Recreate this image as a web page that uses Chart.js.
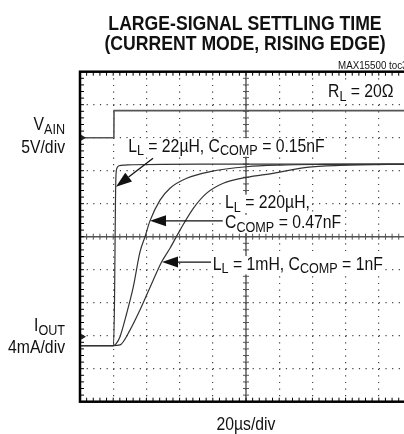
<!DOCTYPE html>
<html>
<head>
<meta charset="utf-8">
<script src="https://cdn.jsdelivr.net/npm/chart.js@4/dist/chart.umd.min.js"></script>
<style>
  html, body { margin: 0; padding: 0; background: #fff; overflow: hidden; }
  #wrap { position: relative; width: 420px; height: 434px; }
</style>
</head>
<body>
<div id="wrap"><canvas id="scope" width="420" height="434"></canvas></div>
<script>
// scope screen in divisions: x = time (20us/div), y = level counted from the bottom line
const vainT = [0, 1.02, 1.025, 10];
const vainV = [8.0, 8.0, 8.82, 8.82];

const l22T = [0, 1.009, 1.04, 1.054, 1.069, 1.084, 1.114, 1.175, 1.355, 1.596, 3.614, 10];
const l22I = [1.70, 1.70, 3.08, 4.60, 6.11, 6.87, 7.08, 7.15, 7.17, 7.18, 7.20, 7.20];

const l220T = [0, 1.009, 1.084, 1.205, 1.407, 1.605, 1.807, 1.958, 2.108, 2.41, 2.711, 3.214, 3.916, 5.021, 6.024, 7.319, 10];
const l220I = [1.70, 1.70, 1.75, 1.97, 2.68, 3.48, 4.54, 5.00, 5.48, 6.11, 6.47, 6.77, 6.97, 7.12, 7.17, 7.19, 7.20];

const l1mT = [0, 1.009, 1.205, 1.506, 1.807, 2.208, 2.461, 2.711, 3.012, 3.413, 3.816, 4.316, 5.021, 5.813, 6.828, 7.831, 10];
const l1mI = [1.70, 1.70, 1.72, 2.17, 2.78, 3.69, 4.24, 4.65, 5.20, 5.86, 6.32, 6.62, 6.80, 6.92, 7.10, 7.16, 7.20];

const xDivs = 10;
const yDivs = 10;

const FONT = '"Liberation Sans", Arial, Helvetica, sans-serif';

function pts(xs, ys) {
  return xs.map((x, i) => ({ x: x, y: ys[i] }));
}

// draws a run of text pieces, some of them subscripts, squeezed a bit like the original narrow face
function drawRun(ctx, segs, x, y, o) {
  const size = o.size || 17.5;
  const subSize = o.subSize || 14;
  const sx = o.sx || 0.9;
  const weight = o.weight || 'normal';
  ctx.save();
  ctx.translate(x, y);
  ctx.scale(sx, 1);
  let w = 0;
  for (const [t, sub] of segs) {
    ctx.font = weight + ' ' + (sub ? subSize : size) + 'px ' + FONT;
    w += ctx.measureText(t).width;
  }
  let cx = o.align === 'right' ? -w : (o.align === 'center' ? -w / 2 : 0);
  if (o.bg) {
    ctx.fillStyle = '#fff';
    ctx.fillRect(cx - 2, -size * 0.78, w + 4, size * 1.05);
  }
  ctx.fillStyle = '#111';
  ctx.textBaseline = 'alphabetic';
  for (const [t, sub] of segs) {
    ctx.font = weight + ' ' + (sub ? subSize : size) + 'px ' + FONT;
    ctx.fillText(t, cx, sub ? 3.5 : 0);
    cx += ctx.measureText(t).width;
  }
  ctx.restore();
}

function arrow(ctx, x1, y1, x2, y2) {
  const a = Math.atan2(y2 - y1, x2 - x1);
  const len = 16, half = 5.5;
  ctx.save();
  ctx.strokeStyle = '#111';
  ctx.fillStyle = '#111';
  ctx.lineWidth = 1.3;
  ctx.beginPath();
  ctx.moveTo(x1, y1);
  ctx.lineTo(x2 - Math.cos(a) * len, y2 - Math.sin(a) * len);
  ctx.stroke();
  ctx.beginPath();
  ctx.moveTo(x2, y2);
  ctx.lineTo(x2 - Math.cos(a) * len - Math.sin(a) * half, y2 - Math.sin(a) * len + Math.cos(a) * half);
  ctx.lineTo(x2 - Math.cos(a) * len + Math.sin(a) * half, y2 - Math.sin(a) * len - Math.cos(a) * half);
  ctx.closePath();
  ctx.fill();
  ctx.restore();
}

const scopePlugin = {
  id: 'scope',
  beforeDatasetsDraw(chart) {
    const { ctx, chartArea: a, scales: { x, y } } = chart;
    ctx.save();
    // centre cross lines with small ticks
    const cx = x.getPixelForValue(xDivs / 2);
    const cy = y.getPixelForValue(yDivs / 2);
    ctx.strokeStyle = '#555';
    ctx.lineWidth = 1.4;
    ctx.beginPath();
    ctx.moveTo(cx, a.top); ctx.lineTo(cx, a.bottom);
    ctx.moveTo(a.left, cy); ctx.lineTo(a.right, cy);
    ctx.stroke();
    ctx.lineWidth = 1;
    ctx.beginPath();
    for (let k = 1; k < yDivs * 5; k++) {
      const py = y.getPixelForValue(k / 5);
      ctx.moveTo(cx - 3, py); ctx.lineTo(cx + 3, py);
    }
    for (let k = 1; k < xDivs * 5; k++) {
      const px = x.getPixelForValue(k / 5);
      ctx.moveTo(px, cy - 3); ctx.lineTo(px, cy + 3);
    }
    ctx.stroke();
    ctx.restore();
  },
  afterDatasetsDraw(chart) {
    const { ctx, chartArea: a, scales: { x, y } } = chart;
    ctx.save();
    // frame and its ticks
    ctx.strokeStyle = '#000';
    ctx.lineWidth = 1;
    ctx.beginPath();
    for (let k = 1; k < xDivs * 5; k++) {
      const px = x.getPixelForValue(k / 5);
      ctx.moveTo(px, a.top); ctx.lineTo(px, a.top + 4);
      ctx.moveTo(px, a.bottom); ctx.lineTo(px, a.bottom - 4);
    }
    for (let k = 1; k < yDivs * 5; k++) {
      const py = y.getPixelForValue(k / 5);
      ctx.moveTo(a.left, py); ctx.lineTo(a.left + 4, py);
      ctx.moveTo(a.right, py); ctx.lineTo(a.right - 4, py);
    }
    ctx.stroke();
    ctx.lineWidth = 2.5;
    ctx.strokeRect(a.left, a.top, a.right - a.left, a.bottom - a.top);

    // channel markers on the left edge
    ctx.fillStyle = '#222';
    for (const lv of [8.0, 1.97]) {
      const py = y.getPixelForValue(lv);
      ctx.beginPath();
      ctx.moveTo(a.left + 6, py);
      ctx.lineTo(a.left + 1, py - 3);
      ctx.lineTo(a.left + 1, py + 3);
      ctx.closePath();
      ctx.fill();
    }
    ctx.restore();

    // arrows
    arrow(ctx, x.getPixelForValue(2.2), y.getPixelForValue(7.38), x.getPixelForValue(1.084), y.getPixelForValue(6.51));
    arrow(ctx, x.getPixelForValue(4.3), y.getPixelForValue(5.48), x.getPixelForValue(2.108), y.getPixelForValue(5.48));
    arrow(ctx, x.getPixelForValue(3.96), y.getPixelForValue(4.23), x.getPixelForValue(2.47), y.getPixelForValue(4.23));

    // curve labels
    drawRun(ctx, [['L'], ['L', 1], [' = 22µH, C'], ['COMP', 1], [' = 0.15nF']],
      x.getPixelForValue(1.45), y.getPixelForValue(7.57), { bg: true });
    drawRun(ctx, [['L'], ['L', 1], [' = 220µH,']],
      x.getPixelForValue(4.37), y.getPixelForValue(5.86), { bg: true });
    drawRun(ctx, [['C'], ['COMP', 1], [' = 0.47nF']],
      x.getPixelForValue(4.37), y.getPixelForValue(5.25), { bg: true });
    drawRun(ctx, [['L'], ['L', 1], [' = 1mH, C'], ['COMP', 1], [' = 1nF']],
      x.getPixelForValue(4.0), y.getPixelForValue(4.0), { bg: true });
    drawRun(ctx, [['R'], ['L', 1], [' = 20Ω']],
      x.getPixelForValue(7.47), y.getPixelForValue(9.23), { bg: true });

    // channel names
    drawRun(ctx, [['V'], ['AIN', 1]], 65, 130, { align: 'right' });
    drawRun(ctx, [['5V/div']], 65, 153, { align: 'right' });
    drawRun(ctx, [['I'], ['OUT', 1]], 65, 331, { align: 'right' });
    drawRun(ctx, [['4mA/div']], 65, 353, { align: 'right' });

    // time base
    drawRun(ctx, [['20µs/div']], (a.left + a.right) / 2, 430, { align: 'center' });

    // title and figure tag
    drawRun(ctx, [['LARGE-SIGNAL SETTLING TIME']], 245, 30, { size: 20.5, weight: 'bold', sx: 0.86, align: 'center' });
    drawRun(ctx, [['(CURRENT MODE, RISING EDGE)']], 245, 50, { size: 20.5, weight: 'bold', sx: 0.86, align: 'center' });
    drawRun(ctx, [['MAX15500 toc3']], 338, 69, { size: 10.5, sx: 0.93 });
  }
};

const traceStyle = { pointRadius: 0, borderWidth: 1.2, borderColor: '#333', fill: false, cubicInterpolationMode: 'monotone' };

new Chart(document.getElementById('scope'), {
  type: 'line',
  data: {
    datasets: [
      { label: 'VAIN', data: pts(vainT, vainV), pointRadius: 0, borderWidth: 1.6, borderColor: '#555', fill: false, tension: 0 },
      Object.assign({ label: 'LL = 22µH, CCOMP = 0.15nF', data: pts(l22T, l22I) }, traceStyle),
      Object.assign({ label: 'LL = 220µH, CCOMP = 0.47nF', data: pts(l220T, l220I) }, traceStyle),
      Object.assign({ label: 'LL = 1mH, CCOMP = 1nF', data: pts(l1mT, l1mI) }, traceStyle)
    ]
  },
  options: {
    responsive: false,
    devicePixelRatio: 1,
    animation: false,
    layout: { padding: { left: 80, top: 71.7, right: 8, bottom: 32.3 } },
    plugins: { legend: { display: false }, tooltip: { enabled: false }, title: { display: false } },
    scales: {
      x: {
        type: 'linear', min: 0, max: xDivs,
        ticks: { display: false, stepSize: 1 },
        grid: { color: '#444', lineWidth: 1.2, drawTicks: false },
        border: { display: false, dash: [1.2, 5.4] }
      },
      y: {
        type: 'linear', min: 0, max: yDivs,
        ticks: { display: false, stepSize: 1 },
        grid: { color: '#444', lineWidth: 1.2, drawTicks: false },
        border: { display: false, dash: [1.2, 5.44] }
      }
    }
  },
  plugins: [scopePlugin]
});
</script>
</body>
</html>
